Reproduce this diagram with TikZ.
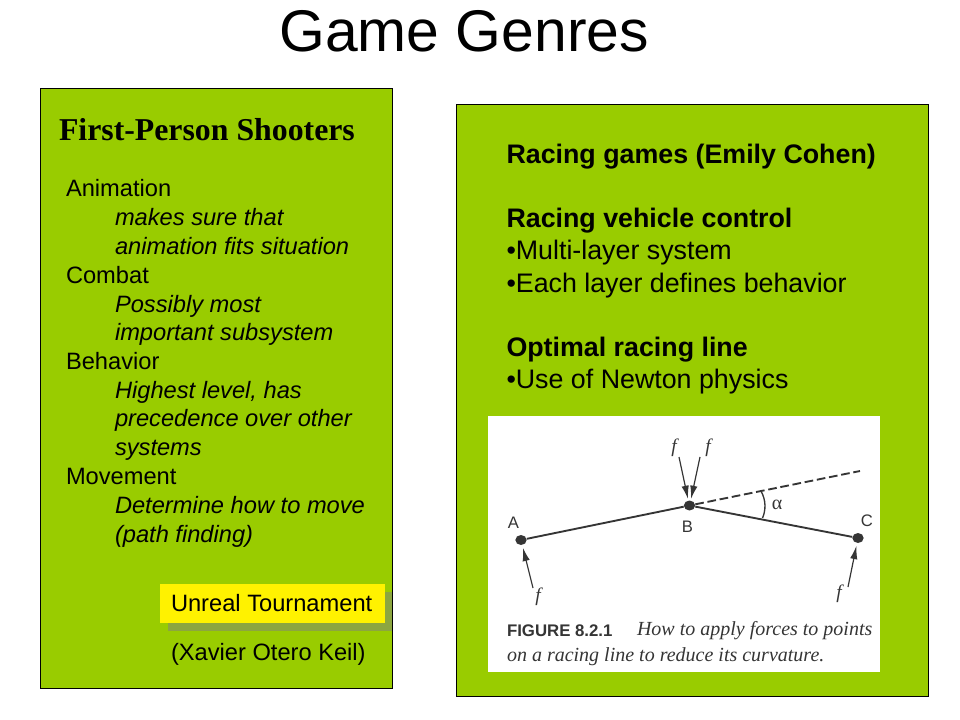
\documentclass[tikz,border=0pt]{standalone}
\usepackage{fontspec}
\setmainfont{Liberation Sans}
\newfontfamily\timesfont{Liberation Serif}
\usetikzlibrary{arrows.meta,shapes.geometric}
\definecolor{panelgreen}{HTML}{99CC00}
\definecolor{shadowgreen}{HTML}{8CA640}
\definecolor{figink}{HTML}{353535}
\tikzset{
  x=0.75pt,y=-0.75pt,
  txt/.style={anchor=base west,inner sep=0pt,outer sep=0pt,text=black},
  panel/.style={draw=black,line width=0.6pt,fill=panelgreen},
  lefttxt/.style={txt,font=\fontsize{17.75}{21}\selectfont},
  leftit/.style={txt,font=\fontsize{17.75}{21}\selectfont\itshape},
  righttxt/.style={txt,font=\fontsize{20.1}{24}\selectfont},
  rightbf/.style={txt,font=\fontsize{20.1}{24}\selectfont\bfseries},
  dot/.style={ellipse,fill=figink,draw=none,minimum width=8.5pt,minimum height=7.5pt,inner sep=0pt},
  figline/.style={draw=figink,line width=1.4pt},
  force/.style={draw=figink,line width=0.9pt,-{Latex[length=10pt,width=5.5pt]}},
  figlbl/.style={inner sep=0pt,text=figink,font=\fontsize{12.5}{14}\selectfont},
  figf/.style={inner sep=0pt,text=figink,font=\timesfont\fontsize{14.5}{16}\selectfont\itshape},
}
\begin{document}
\begin{tikzpicture}
\useasboundingbox (0,0) rectangle (960,720);
\fill[white] (0,0) rectangle (960,720);
\node[txt,font=\fontsize{44.1}{50}\selectfont] (title) at (279.5,52) {Game Genres};
% left panel
\path[panel] (40,88) rectangle (392.7,688.7);
\node[txt,font=\timesfont\fontsize{23.85}{27}\selectfont\bfseries] (fps) at (59,141) {First-Person Shooters};
\node[lefttxt] (l1) at (66,196.7) {Animation};
\node[leftit] (l2) at (115,225.7) {makes sure that};
\node[leftit] (l3) at (115,254.7) {animation fits situation};
\node[lefttxt] (l4) at (66,283.7) {Combat};
\node[leftit] (l5) at (115,312.2) {Possibly most};
\node[leftit] (l6) at (115,340.7) {important subsystem};
\node[lefttxt] (l7) at (66,369.2) {Behavior};
\node[leftit] (l8) at (115,398.2) {Highest level, has};
\node[leftit] (l9) at (115,426.7) {precedence over other};
\node[leftit] (l10) at (115,455.7) {systems};
\node[lefttxt] (l11) at (66,484.2) {Movement};
\node[leftit] (l12) at (115,513.2) {Determine how to move};
\node[leftit] (l13) at (115,542.2) {(path finding)};
\fill[shadowgreen] (168,592) rectangle (392,631);
\fill[yellow] (160,584) rectangle (385,623);
\node[lefttxt] (ut) at (171,611.7) {Unreal Tournament};
\node[lefttxt] (xo) at (171,660.7) {(Xavier Otero Keil)};
% right panel
\path[panel] (456.5,104.5) rectangle (928.7,696.7);
\node[rightbf] (r1) at (506.5,164) {Racing games (Emily Cohen)};
\node[rightbf] (r2) at (506.5,228) {Racing vehicle control};
\node[righttxt] (r3) at (506.5,260) {•Multi-layer system};
\node[righttxt] (r4) at (506.5,292) {•Each layer defines behavior};
\node[rightbf] (r5) at (506.5,356) {Optimal racing line};
\node[righttxt] (r6) at (506.5,388) {•Use of Newton physics};
% figure
\fill[white] (488,416) rectangle (880,672);
\node[dot] (A) at (521,540) {};
\node[dot] (B) at (689.5,505.5) {};
\node[dot] (C) at (858,538) {};
\coordinate (dashend) at (860,471);
\coordinate (ftl) at (679,457);
\coordinate (ftr) at (700,457);
\coordinate (fa) at (533,588);
\coordinate (fc) at (848,587);
\draw[figline] (A) -- (B);
\draw[figline] (B) -- (C);
\draw[figline,dash pattern=on 6.5pt off 2.8pt] (B) -- (dashend);
\draw[force] (ftl) -- (688,499);
\draw[force] (ftr) -- (691,499);
\draw[force,shorten >=2pt] (fa) -- (A);
\draw[force,shorten >=2pt] (fc) -- (C);
\draw[draw=figink,line width=1pt] (761,491) .. controls (766,500) and (766,510) .. (762.5,518);
\node[figlbl] (la) at (513.5,523) {A};
\node[figlbl] (lb) at (687.5,527) {B};
\node[figlbl] (lc) at (867,521) {C};
\node[inner sep=0pt,text=figink,font=\timesfont\fontsize{15}{17}\selectfont] (alpha) at (777,505) {α};
\node[figf] (f1) at (674,448) {f};
\node[figf] (f2) at (708,448) {f};
\node[figf] (f3) at (538,597) {f};
\node[figf] (f4) at (839,594) {f};
\node[txt,text=figink,font=\fontsize{12.6}{14}\selectfont\bfseries] (c1) at (507,636) {FIGURE 8.2.1};
\node[txt,text=figink,font=\timesfont\fontsize{15}{17}\selectfont\itshape] (c2) at (637,635) {How to apply forces to points};
\node[txt,text=figink,font=\timesfont\fontsize{15}{17}\selectfont\itshape] (c3) at (507,661) {on a racing line to reduce its curvature.};
\end{tikzpicture}
\end{document}
